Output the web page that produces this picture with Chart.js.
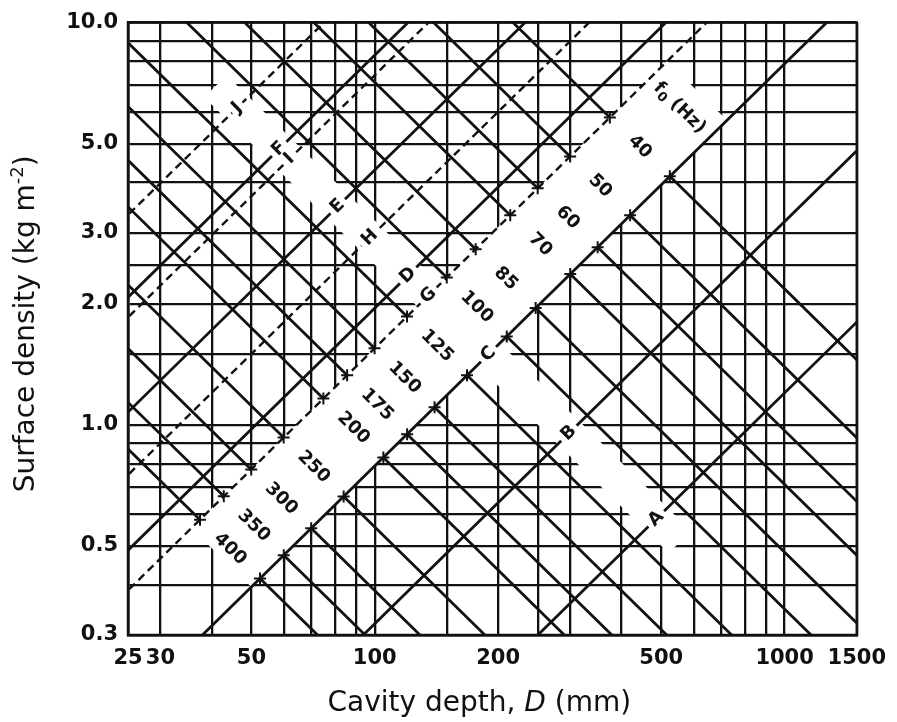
<!DOCTYPE html>
<html>
<head>
<meta charset="utf-8">
<title>Panel absorber design chart</title>
<script src="https://cdn.jsdelivr.net/npm/chart.js@4.4.1/dist/chart.umd.min.js"></script>
<style>
  html, body { margin: 0; padding: 0; background: #fff; }
  #wrap { width: 897px; height: 722px; }
</style>
</head>
<body>
<div id="wrap"><canvas id="chart" width="897" height="722"></canvas></div>
<script>
// resonance frequency of each falling line, Hz
const f0Values = [40, 50, 60, 70, 85, 100, 125, 150, 175, 200, 250, 300, 350, 400]
// f0 = C / sqrt(m d)  (m in kg m-2, d in m)
const RESONANCE_C = 59

// rising lines, ratio surface density / cavity depth (kg m-2 per mm)
const lineLetters = ['A', 'B', 'C', 'D', 'E', 'F', 'G', 'H', 'I', 'J']
const lineRatios = [0.0012, 0.0032, 0.0079, 0.0195, 0.043, 0.083, 0.0155, 0.030, 0.074, 0.133]
const lineDashed = [false, false, false, false, false, false, true, true, true, true]

// grid and tick labels
const depthGrid = [25, 30, 40, 50, 60, 70, 80, 90, 100, 150, 200, 250, 300, 400, 500, 600, 700, 800, 900, 1000, 1500]
const depthLabels = [25, 30, 50, 100, 200, 500, 1000, 1500]
const densityGrid = [0.3, 0.4, 0.5, 0.6, 0.7, 0.8, 0.9, 1, 1.5, 2, 2.5, 3, 4, 5, 6, 7, 8, 9, 10]
const densityLabels = [0.3, 0.5, 1, 2, 3, 5, 10]

// cleared strips that carry the labels
const freqStrip = { edges: ['G', 'C'], fromHz: 420, toHz: 29 }
const letterStrip = { fromHz: 104, toHz: 118, kMax: 0.17, kMin: 0.00092 }
const f0HeadingHz = 32   // the f0 (Hz) heading sits one step past 40

const ink = '#111'
Chart.defaults.font.family = "'DejaVu Sans', sans-serif"
Chart.defaults.color = ink

const product = f => 1000 * (RESONANCE_C / f) ** 2      // m * D (mm)
const meet = (P, k) => ({ x: Math.sqrt(P / k), y: Math.sqrt(P * k) })
const ratioOf = l => lineRatios[lineLetters.indexOf(l)]
const kHigh = ratioOf(freqStrip.edges[0])
const kLow = ratioOf(freqStrip.edges[1])
const kMid = Math.sqrt(kHigh * kLow)
const inStrip = f => f <= freqStrip.fromHz && f >= freqStrip.toHz

// falling lines, broken where they cross the label strip
const fallingSets = f0Values.map(f => {
  const P = product(f)
  const pts = [{ x: 5, y: P / 5 }]
  if (inStrip(f)) {
    const a = meet(P, kHigh), b = meet(P, kLow)
    pts.push(a, { x: Math.sqrt(a.x * b.x), y: null }, b)
  }
  pts.push({ x: 5000, y: P / 5000 })
  return {
    label: f + ' Hz', data: pts, showLine: true, spanGaps: false,
    pointRadius: 0, borderColor: ink, borderWidth: 2.8
  }
})

const risingSets = lineLetters.map((letter, i) => ({
  label: letter,
  data: [{ x: 5, y: lineRatios[i] * 5 }, { x: 5000, y: lineRatios[i] * 5000 }],
  showLine: true, pointRadius: 0, borderColor: ink,
  borderWidth: lineDashed[i] ? 2.4 : 2.8,
  borderDash: lineDashed[i] ? [8, 5] : []
}))

// small crosses at both ends of each break
const crossPts = []
f0Values.filter(inStrip).forEach(f => {
  crossPts.push(meet(product(f), kHigh), meet(product(f), kLow))
})
const crossSet = {
  label: 'ticks', data: crossPts, showLine: false,
  pointStyle: 'cross', pointRadius: 6, borderColor: ink, borderWidth: 2
}

function toPx(chart, p) {
  return [chart.scales.x.getPixelForValue(p.x), chart.scales.y.getPixelForValue(p.y)]
}

function fillPoly(chart, pts) {
  const ctx = chart.ctx
  ctx.beginPath()
  pts.forEach((p, i) => {
    const [px, py] = toPx(chart, p)
    if (i === 0) ctx.moveTo(px, py); else ctx.lineTo(px, py)
  })
  ctx.closePath()
  ctx.fill()
}

function drawPieces(ctx, pieces, cx, cy, angle, baseline, box) {
  ctx.save()
  ctx.translate(cx, cy)
  ctx.rotate(angle)
  ctx.textAlign = 'left'
  ctx.textBaseline = baseline
  let w = 0
  pieces.forEach(p => { ctx.font = p.font; p.w = ctx.measureText(p.text).width; w += p.w })
  if (box) {
    ctx.fillStyle = '#fff'
    ctx.fillRect(-w / 2 - box.x, -box.h / 2, w + 2 * box.x, box.h)
  }
  ctx.fillStyle = ink
  let x0 = -w / 2
  pieces.forEach(p => { ctx.font = p.font; ctx.fillText(p.text, x0, p.dy || 0); x0 += p.w })
  ctx.restore()
}

const stripPlugin = {
  id: 'strips',
  beforeDatasetsDraw(chart) {
    const { ctx, chartArea: a } = chart
    ctx.save()
    ctx.beginPath()
    ctx.rect(a.left, a.top, a.right - a.left, a.bottom - a.top)
    ctx.clip()
    ctx.fillStyle = '#fff'
    const P1 = product(freqStrip.fromHz), P2 = product(freqStrip.toHz)
    fillPoly(chart, [meet(P1, kHigh), meet(P2, kHigh), meet(P2, kLow), meet(P1, kLow)])
    const Q1 = product(letterStrip.fromHz), Q2 = product(letterStrip.toHz)
    fillPoly(chart, [meet(Q1, letterStrip.kMax), meet(Q1, letterStrip.kMin),
                     meet(Q2, letterStrip.kMin), meet(Q2, letterStrip.kMax)])
    ctx.restore()
  }
}

const labelPlugin = {
  id: 'labels',
  afterDatasetsDraw(chart) {
    const { ctx, chartArea: a } = chart
    ctx.save()
    ctx.strokeStyle = ink
    ctx.lineWidth = 2.5
    ctx.strokeRect(a.left, a.top, a.right - a.left, a.bottom - a.top)
    ctx.restore()

    // screen angles of the two line families
    const [x1, y1] = toPx(chart, { x: 100, y: 1 })
    const [x2, y2] = toPx(chart, { x: 1000, y: 0.1 })
    const down = Math.atan2(y2 - y1, x2 - x1)
    const up = -down

    const numFont = 'bold 18px "DejaVu Sans"'
    f0Values.forEach(f => {
      const [px, py] = toPx(chart, meet(product(f), kMid))
      drawPieces(ctx, [{ text: String(f), font: numFont }], px, py, down, 'middle', { x: 3, h: 20 })
    })
    const [hx, hy] = toPx(chart, meet(product(f0HeadingHz), kMid))
    drawPieces(ctx, [
      { text: 'f', font: numFont },
      { text: '0', font: 'bold 13px "DejaVu Sans"', dy: 5 },
      { text: ' (Hz)', font: numFont }
    ], hx, hy, down, 'middle', { x: 3, h: 22 })

    const Pl = product(Math.sqrt(letterStrip.fromHz * letterStrip.toHz))
    lineLetters.forEach((letter, i) => {
      const [px, py] = toPx(chart, meet(Pl, lineRatios[i]))
      drawPieces(ctx, [{ text: letter, font: 'bold 18px "DejaVu Sans"' }], px, py, up, 'middle', { x: 4, h: 18 })
    })
  },
  afterDraw(chart) {
    const { ctx, chartArea: a } = chart
    const big = '28px "DejaVu Sans"'
    drawPieces(ctx, [
      { text: 'Surface density (kg m', font: big },
      { text: '-2', font: '18px "DejaVu Sans"', dy: -11 },
      { text: ')', font: big }
    ], 34, (a.top + a.bottom) / 2 - 5, -Math.PI / 2, 'alphabetic')
    drawPieces(ctx, [
      { text: 'Cavity depth, ', font: big },
      { text: 'D', font: 'italic ' + big },
      { text: ' (mm)', font: big }
    ], (a.left + a.right) / 2 - 13, 711, 0, 'alphabetic')
  }
}

new Chart(document.getElementById('chart'), {
  type: 'scatter',
  data: { datasets: [...fallingSets, ...risingSets, crossSet] },
  options: {
    responsive: false,
    animation: false,
    events: [],
    layout: { padding: { top: 17, right: 33, left: 0, bottom: 0 } },
    plugins: { legend: { display: false }, tooltip: { enabled: false } },
    scales: {
      x: {
        type: 'logarithmic', min: 25, max: 1500,
        afterBuildTicks: s => { s.ticks = depthGrid.map(v => ({ value: v })) },
        afterFit: s => { s.height = 87 },
        ticks: {
          autoSkip: false, maxRotation: 0, minRotation: 0, padding: 11,
          font: { size: 21, weight: 'bold' }, color: ink,
          callback: v => depthLabels.includes(v) ? String(v) : ''
        },
        grid: { color: ink, lineWidth: 2.3, drawTicks: false },
        border: { color: ink, width: 2.5 }
      },
      y: {
        type: 'logarithmic', min: 0.3, max: 10,
        afterBuildTicks: s => { s.ticks = densityGrid.map(v => ({ value: v })) },
        afterFit: s => { s.width = 128 },
        ticks: {
          autoSkip: false, padding: 10,
          font: { size: 21, weight: 'bold' }, color: ink,
          callback: v => densityLabels.includes(v) ? v.toFixed(1) : ''
        },
        grid: { color: ink, lineWidth: 2.3, drawTicks: false },
        border: { color: ink, width: 2.5 }
      }
    }
  },
  plugins: [stripPlugin, labelPlugin]
})
</script>
</body>
</html>
